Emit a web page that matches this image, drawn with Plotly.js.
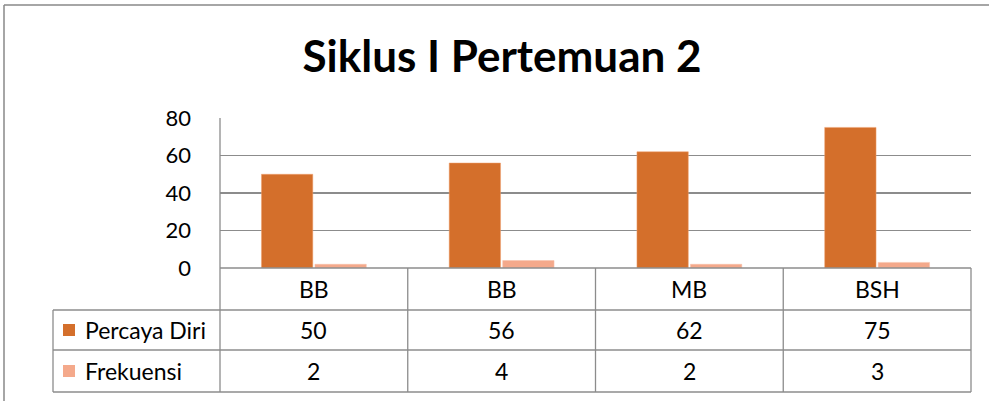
<!DOCTYPE html>
<html><head><meta charset="utf-8">
<script src="https://cdn.plot.ly/plotly-3.0.1.min.js"></script>
<style>html,body{margin:0;padding:0;background:#fff}#c{width:989px;height:401px}</style>
</head><body><div id="c"></div>
<script>
const categories = ["BB", "BB", "MB", "BSH"];
const seriesNames = ["Percaya Diri", "Frekuensi"];
const percayaDiri = [50, 56, 62, 75];
const frekuensi = [2, 4, 2, 3];
const yTicks = [0, 20, 40, 60, 80];
const colors = ["#D46F2B", "#F4A98B"];
const titleText = "Siklus I Pertemuan 2";

const W = 989, H = 401;
const L = 220, R = 971, T = 118, B = 268;
const pw = R - L, ph = B - T;
const px = x => (x - L) / pw;
const py = y => (B - y) / ph;

const xs = categories.map((c, i) => i);
const FONT = "Lato, 'Open Sans', sans-serif";
const traces = [
  {type: "bar", x: xs, y: percayaDiri, name: seriesNames[0], marker: {color: colors[0], line: {color: "#F0A070", width: 0.5}}, hoverinfo: "y"},
  {type: "bar", x: xs, y: frekuensi, name: seriesNames[1], marker: {color: colors[1], line: {color: "#F6C0A8", width: 0.5}}, hoverinfo: "y"}
];

const gridC = "#8c8c8c";
const shapes = [];
const line = (x0, y0, x1, y1, c, w) => shapes.push({type: "line", xref: "paper", yref: "paper", x0: px(x0), y0: py(y0), x1: px(x1), y1: py(y1), line: {color: c || gridC, width: w || 1.3}, layer: "above"});
const rowY = [268, 310, 350, 392];
const leftX = 53;
line(L, rowY[0], R, rowY[0]);
line(leftX, rowY[1], R, rowY[1]);
line(leftX, rowY[2], R, rowY[2]);
line(leftX, rowY[3], R, rowY[3]);
line(leftX, rowY[1], leftX, rowY[3]);
for (let i = 0; i <= categories.length; i++) {
  const xx = L + pw * i / categories.length;
  line(xx, i === 0 ? T : rowY[0], xx, rowY[3]);
}
line(4, 5, 4, 410, "#888", 1.5);
line(4, 5, 1000, 5, "#888", 1.5);

const annotations = [];
const ann = (text, xpx, ypx, anchor) => annotations.push({text, xref: "paper", yref: "paper", x: px(xpx), y: py(ypx), xanchor: anchor || "center", yanchor: "middle", showarrow: false, font: {family: FONT, size: 23, color: "#000"}});
categories.forEach((c, i) => {
  const cx = L + pw * (i + 0.5) / categories.length;
  ann(c, cx, (rowY[0] + rowY[1]) / 2);
  ann(String(percayaDiri[i]), cx, (rowY[1] + rowY[2]) / 2);
  ann(String(frekuensi[i]), cx, (rowY[2] + rowY[3]) / 2);
});
[seriesNames[0], seriesNames[1]].forEach((n, k) => {
  const cy = (rowY[1 + k] + rowY[2 + k]) / 2;
  ann(n, 83, cy, "left");
  shapes.push({type: "rect", xref: "paper", yref: "paper", x0: px(63), x1: px(75), y0: py(cy - 6), y1: py(cy + 6), fillcolor: colors[k], line: {width: 0}});
});

const layout = {
  width: W, height: H,
  margin: {l: L, r: W - R, t: T, b: H - B, pad: 0},
  paper_bgcolor: "#fff", plot_bgcolor: "#fff",
  title: {text: "<b>" + titleText + "</b>", x: 502 / W, xref: "container", xanchor: "center", y: 1 - 57 / H, yanchor: "middle", font: {family: FONT, size: 44, color: "#000"}},
  showlegend: false,
  bargap: 0.43, bargroupgap: 0.04,
  xaxis: {range: [-0.5, categories.length - 0.5], showticklabels: false, showgrid: false, zeroline: false, showline: false, ticks: "", fixedrange: true},
  yaxis: {range: [0, 80], tickvals: yTicks, gridcolor: gridC, gridwidth: 1.3, zeroline: false, showline: false, ticks: "", ticklabelstandoff: 28, tickfont: {family: FONT, size: 22, color: "#000"}, fixedrange: true},
  shapes, annotations,
  font: {family: FONT}
};
Plotly.newPlot("c", traces, layout, {staticPlot: true});
</script></body></html>
